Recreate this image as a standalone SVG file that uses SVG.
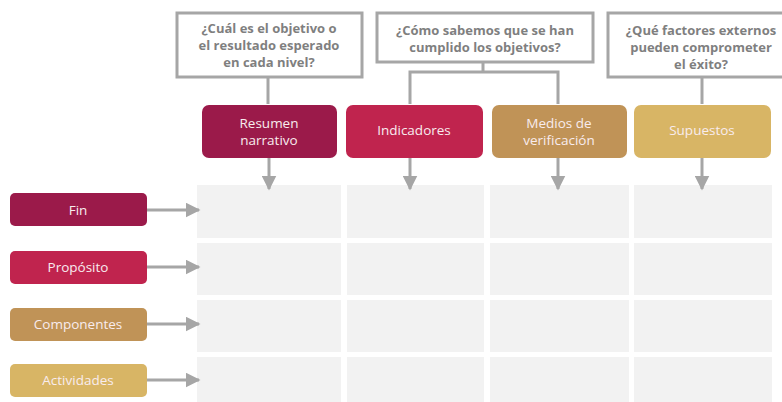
<svg xmlns="http://www.w3.org/2000/svg" width="782" height="402" viewBox="0 0 782 402">
<defs>
<style>
.q{fill:#fff;stroke:#A6A6A6;stroke-width:3}
.qt{font-family:"Open Sans","DejaVu Sans",sans-serif;font-size:13px;font-weight:700;fill:#7F7F7F;text-anchor:middle}
.nt{font-family:"Open Sans","DejaVu Sans",sans-serif;font-size:13.5px;font-weight:500;fill:#F8ECEE;text-anchor:middle}
.c1{fill:#9B1A4A}.c2{fill:#C0244E}.c3{fill:#C09357}.c4{fill:#D8B565}
.cell{fill:#F2F2F2}
.ln{fill:none;stroke:#A6A6A6;stroke-width:3}
</style>
<marker id="ah" viewBox="0 0 10 10" refX="9" refY="5" markerWidth="5" markerHeight="5" markerUnits="strokeWidth" orient="auto">
<path d="M0,0 L10,5 L0,10 Z" fill="#A6A6A6"/>
</marker>
</defs>
<rect width="782" height="402" fill="#fff"/>
<g id="grid">
<rect class="cell" x="197" y="185" width="144" height="53"/>
<rect class="cell" x="347" y="185" width="137" height="53"/>
<rect class="cell" x="490" y="185" width="139" height="53"/>
<rect class="cell" x="634" y="185" width="138" height="53"/>
<rect class="cell" x="197" y="243" width="144" height="52"/>
<rect class="cell" x="347" y="243" width="137" height="52"/>
<rect class="cell" x="490" y="243" width="139" height="52"/>
<rect class="cell" x="634" y="243" width="138" height="52"/>
<rect class="cell" x="197" y="300" width="144" height="52"/>
<rect class="cell" x="347" y="300" width="137" height="52"/>
<rect class="cell" x="490" y="300" width="139" height="52"/>
<rect class="cell" x="634" y="300" width="138" height="52"/>
<rect class="cell" x="197" y="357" width="144" height="45"/>
<rect class="cell" x="347" y="357" width="137" height="45"/>
<rect class="cell" x="490" y="357" width="139" height="45"/>
<rect class="cell" x="634" y="357" width="138" height="45"/>
</g>
<g id="connectors">
<path class="ln" d="M268,77 V104"/>
<path class="ln" d="M483,62 V72 M410,104 V72 H558 V104"/>
<path class="ln" d="M702,77 V104"/>
<path class="ln" d="M269,158 V189" marker-end="url(#ah)"/>
<path class="ln" d="M410,158 V189" marker-end="url(#ah)"/>
<path class="ln" d="M558,158 V189" marker-end="url(#ah)"/>
<path class="ln" d="M702,158 V189" marker-end="url(#ah)"/>
<path class="ln" d="M147,210 H199" marker-end="url(#ah)"/>
<path class="ln" d="M147,267 H199" marker-end="url(#ah)"/>
<path class="ln" d="M147,324 H199" marker-end="url(#ah)"/>
<path class="ln" d="M147,380 H199" marker-end="url(#ah)"/>
</g>
<g id="q1">
<rect class="q" x="177" y="13" width="185" height="64"/>
<text class="qt" x="269" y="33">¿Cuál es el objetivo o</text>
<text class="qt" x="269" y="50">el resultado esperado</text>
<text class="qt" x="269" y="67">en cada nivel?</text>
</g>
<g id="q2">
<rect class="q" x="377" y="13" width="216" height="49"/>
<text class="qt" x="485" y="35">¿Cómo sabemos que se han</text>
<text class="qt" x="485" y="52">cumplido los objetivos?</text>
</g>
<g id="q3">
<rect class="q" x="608" y="13" width="185" height="64"/>
<text class="qt" x="701" y="35">¿Qué factores externos</text>
<text class="qt" x="701" y="52">pueden comprometer</text>
<text class="qt" x="701" y="69">el éxito?</text>
</g>
<g id="resumen">
<rect class="c1" x="202" y="105" width="135" height="53" rx="7"/>
<text class="nt" x="269" y="128">Resumen</text>
<text class="nt" x="269" y="145">narrativo</text>
</g>
<g id="indicadores">
<rect class="c2" x="346" y="105" width="137" height="53" rx="7"/>
<text class="nt" x="414" y="135">Indicadores</text>
</g>
<g id="medios">
<rect class="c3" x="492" y="105" width="135" height="53" rx="7"/>
<text class="nt" x="559" y="128">Medios de</text>
<text class="nt" x="559" y="145">verificación</text>
</g>
<g id="supuestos">
<rect class="c4" x="634" y="105" width="137" height="53" rx="7"/>
<text class="nt" x="702" y="135">Supuestos</text>
</g>
<g id="fin">
<rect class="c1" x="10" y="193" width="137" height="33" rx="5"/>
<text class="nt" x="78" y="215">Fin</text>
</g>
<g id="proposito">
<rect class="c2" x="10" y="251" width="137" height="33" rx="5"/>
<text class="nt" x="78" y="272">Propósito</text>
</g>
<g id="componentes">
<rect class="c3" x="10" y="308" width="137" height="33" rx="5"/>
<text class="nt" x="78" y="329">Componentes</text>
</g>
<g id="actividades">
<rect class="c4" x="10" y="364" width="137" height="33" rx="5"/>
<text class="nt" x="78" y="385">Actividades</text>
</g>
</svg>
